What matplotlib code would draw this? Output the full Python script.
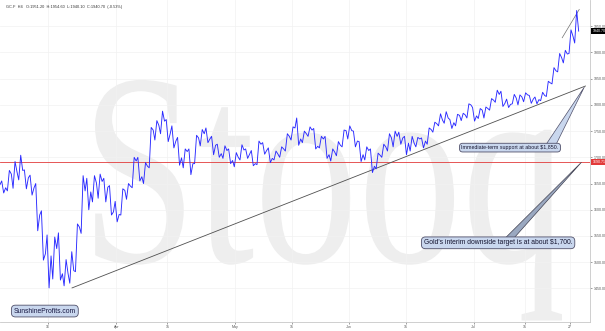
import pandas as pd
import matplotlib
matplotlib.use('Agg')
import matplotlib.pyplot as plt
from matplotlib.textpath import TextPath
from matplotlib.font_manager import FontProperties
from matplotlib.patches import PathPatch, Polygon
from matplotlib.transforms import Affine2D

plt.rcParams['font.family'] = ['Liberation Sans', 'DejaVu Sans']

# trading days on the chart (COMEX holidays taken out)
days = pd.bdate_range('2020-03-04', '2020-07-28')
days = days.drop(pd.to_datetime(['2020-04-10', '2020-05-25', '2020-07-03']))

# daily high / low / close
high = [1655, 1675, 1692, 1704, 1676, 1666, 1650, 1598, 1552, 1548,
        1556, 1505, 1520, 1573, 1665, 1660, 1665, 1668, 1660, 1646,
        1616, 1640, 1650, 1700, 1700, 1690, 1757, 1770, 1788, 1772,
        1760, 1738, 1716, 1716, 1742, 1753, 1756, 1740, 1725, 1722,
        1716, 1709, 1724, 1716, 1713, 1731, 1728, 1718, 1712, 1720,
        1745, 1758, 1775, 1750, 1758, 1755, 1740, 1740, 1716, 1730,
        1752, 1760, 1750, 1730, 1720, 1716, 1708, 1725, 1745, 1750,
        1748, 1740, 1740, 1738, 1737, 1756, 1767, 1783, 1787, 1772,
        1782, 1784, 1802, 1795, 1793, 1796, 1812, 1828, 1826, 1811,
        1820, 1819, 1823, 1818, 1815, 1824, 1845, 1871, 1898, 1904,
        1943, 1980]
low = [1632, 1636, 1641, 1657, 1640, 1628, 1560, 1504, 1451, 1468,
       1466, 1455, 1460, 1482, 1555, 1600, 1615, 1622, 1615, 1590,
       1577, 1590, 1620, 1642, 1655, 1650, 1680, 1733, 1745, 1730,
       1718, 1685, 1680, 1667, 1688, 1722, 1728, 1705, 1700, 1698,
       1688, 1682, 1695, 1698, 1684, 1686, 1706, 1690, 1695, 1700,
       1712, 1733, 1723, 1728, 1740, 1716, 1718, 1698, 1693, 1703,
       1720, 1735, 1720, 1692, 1695, 1671, 1678, 1700, 1712, 1720,
       1725, 1705, 1712, 1720, 1718, 1725, 1748, 1760, 1765, 1755,
       1760, 1770, 1775, 1769, 1774, 1775, 1790, 1805, 1797, 1795,
       1802, 1800, 1806, 1803, 1802, 1808, 1816, 1840, 1863, 1880,
       1898, 1918]
close = [1642, 1668, 1672, 1675, 1661, 1642, 1590, 1516, 1512, 1526,
         1478, 1478, 1484, 1567, 1636, 1634, 1651, 1654, 1643, 1596,
         1591, 1637, 1645, 1693, 1663, 1683, 1752, 1761, 1769, 1745,
         1731, 1699, 1711, 1688, 1737, 1745, 1735, 1723, 1707, 1713,
         1694, 1700, 1714, 1706, 1688, 1725, 1713, 1698, 1706, 1716,
         1740, 1756, 1735, 1745, 1752, 1721, 1735, 1705, 1710, 1723,
         1751, 1751, 1731, 1705, 1713, 1683, 1704, 1720, 1737, 1740,
         1737, 1727, 1727, 1735, 1731, 1753, 1764, 1771, 1775, 1766,
         1780, 1781, 1800, 1779, 1790, 1793, 1809, 1820, 1803, 1801,
         1813, 1815, 1819, 1811, 1810, 1818, 1842, 1865, 1890, 1897,
         1931, 1940.7]
first_open = 1648

last_price = 1940.70
red_level = 1690.71
yticks = [1450, 1500, 1550, 1600, 1650, 1700, 1750, 1800, 1850, 1900, 1950]

tick_dates = ['2020-03-16', '2020-04-01', '2020-04-15', '2020-05-01', '2020-05-15',
              '2020-06-01', '2020-06-15', '2020-07-01', '2020-07-15', '2020-07-27']
tick_labels = ['16', 'Apr', '15', 'May', '15', 'Jun', '15', 'Jul', '15', '27']

# support line and short upper line (date index, price)
support_x = [12.2, 102.7]
support_y = [1451, 1836]
upper_x = [98.6, 101.6]
upper_y = [1928, 1982]

note1 = "Immediate-term support at about $1,850."
note2 = "Gold's interim downside target is at about $1,700."

fig = plt.figure(figsize=(6.05, 3.31), dpi=100)
fig.patch.set_facecolor('white')
ax = fig.add_axes([0, 9/331, 590/605, 322/331])
ax.set_facecolor('none')

# watermark
tp = TextPath((0, 0), 'Stooq', size=1, prop=FontProperties(family='Liberation Serif'))
ext = tp.get_extents()
sx = 467 / ext.width
sy = 187 / 0.68
wm = PathPatch(tp, transform=Affine2D().scale(sx, sy).translate(95 - ext.x0 * sx, 331 - 262),
               fc='#eeeeee', ec='none', zorder=-5)
fig.add_artist(wm)

# price path: open -> low/high -> close for every day
xs, ys = [], []
prev = first_open
for i, (h, l, c) in enumerate(zip(high, low, close)):
    seq = [prev, l, h, c] if c >= prev else [prev, h, l, c]
    xs += [i - 0.5, i - 0.2, i + 0.15, i + 0.5]
    ys += seq
    prev = c
ax.plot(xs, ys, color='#2a2aff', lw=0.65, zorder=3)

ax.axhline(red_level, color='#e23a3a', lw=0.6, zorder=2)
ax.plot(support_x, support_y, color='#505050', lw=0.6, zorder=2)
ax.plot(upper_x, upper_y, color='#707070', lw=0.5, zorder=2)

# callout pointers
ax.add_patch(Polygon([(95.6, 1722), (97.4, 1722), (102.5, 1834)], closed=True,
                     fc='#c9d7ee', ec='#50506a', lw=0.5, zorder=4))
ax.add_patch(Polygon([(88.0, 1540), (89.6, 1540), (102.0, 1690.7)], closed=True,
                     fc='#9aa8c0', ec='#404050', lw=0.5, zorder=4))

box = dict(boxstyle='round,pad=0.35,rounding_size=0.6', fc='#c9d7ee', ec='#50506a', lw=0.6)
ax.text(89.4, 1718.5, note1, fontsize=3.8, color='#151530', ha='center', va='center',
        bbox=box, zorder=5)
ax.text(87.3, 1537, note2, fontsize=4.9, color='#151530', ha='center', va='center',
        bbox=box, zorder=5)
ax.text(0.076, 0.034, 'SunshineProfits.com', transform=ax.transAxes, fontsize=4.9,
        color='#151540', ha='center', va='center', bbox=box, zorder=5)

# axes
ax.set_xlim(-0.5, 103.5)
ax.set_ylim(1386, 2000)
for s in ['top', 'left']:
    ax.spines[s].set_visible(False)
for s in ['right', 'bottom']:
    ax.spines[s].set_color('#c8c8c8')
    ax.spines[s].set_linewidth(0.6)
ax.yaxis.tick_right()
ax.set_yticks(yticks)
ax.set_yticklabels(['%.2f' % v for v in yticks])
ax.set_xticks([days.get_loc(pd.Timestamp(d)) for d in tick_dates])
ax.set_xticklabels(tick_labels)
ax.tick_params(axis='both', labelsize=2.6, colors='#555555', length=1.5, width=0.4, pad=1)
ax.grid(True, color='#f1f1f1', lw=0.5)
ax.set_axisbelow(True)

yt = ax.get_yaxis_transform()
ax.text(1.004, last_price, '%.2f' % last_price, transform=yt, fontsize=2.6, color='white',
        ha='left', va='center', clip_on=False,
        bbox=dict(boxstyle='square,pad=0.3', fc='black', ec='none'), zorder=6)
ax.text(1.004, red_level, '%.2f' % red_level, transform=yt, fontsize=2.6, color='white',
        ha='left', va='center', clip_on=False,
        bbox=dict(boxstyle='square,pad=0.3', fc='#e23a3a', ec='none'), zorder=6)

fig.text(6/605, 1 - 7/331, 'GC.F  H4   O:1951.20  H:1954.60  L:1940.10  C:1940.70  (-0.53%)',
         fontsize=2.8, color='#333333', ha='left', va='center')

fig.savefig('out.png', dpi=100)
